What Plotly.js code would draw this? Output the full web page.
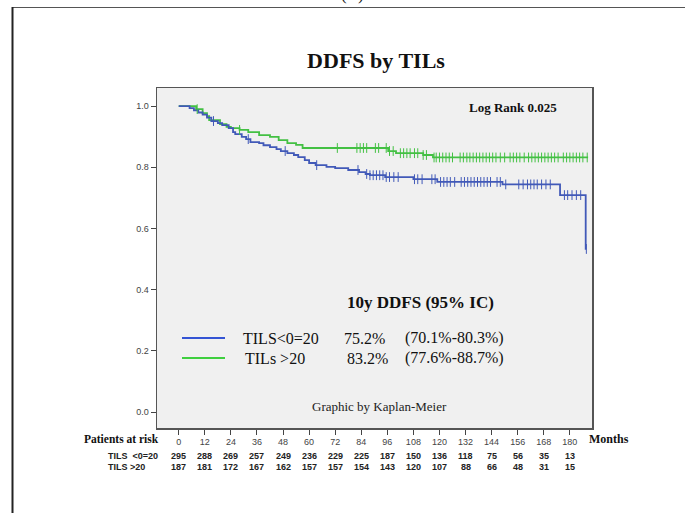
<!DOCTYPE html>
<html>
<head>
<meta charset="utf-8">
<script src="https://cdn.plot.ly/plotly-3.0.1.min.js"></script>
<style>
  html, body { margin: 0; padding: 0; background: #fff; }
  #chart { width: 685px; height: 513px; }
</style>
</head>
<body>
<div id="chart"></div>
<script>
// Kaplan-Meier step curves: event times (months) and survival after each step
const lowTimes = [0, 5, 7, 9, 11, 13, 15, 18, 20, 23, 25, 26, 29, 31, 33, 37, 39, 42, 45, 47, 50, 53, 55, 58, 60, 63, 68, 72, 78, 83, 86, 88, 95, 108, 119, 149, 175.5, 187.3, 187.6];
const lowSurv  = [1.0, 0.993, 0.986, 0.979, 0.972, 0.962, 0.951, 0.944, 0.938, 0.928, 0.915, 0.908, 0.899, 0.892, 0.882, 0.879, 0.872, 0.866, 0.859, 0.853, 0.846, 0.840, 0.833, 0.823, 0.814, 0.807, 0.801, 0.797, 0.791, 0.784, 0.778, 0.774, 0.768, 0.761, 0.752, 0.744, 0.709, 0.533, 0.533];

const highTimes = [0, 8, 11, 13, 14, 19, 22, 24, 28, 32, 37, 42, 46, 50, 54, 57, 96.4, 100, 112.5, 117, 188.4];
const highSurv  = [1.0, 0.990, 0.977, 0.967, 0.954, 0.941, 0.932, 0.928, 0.922, 0.915, 0.905, 0.899, 0.889, 0.879, 0.873, 0.863, 0.853, 0.846, 0.840, 0.832, 0.832];

// Censored observations (months)
const lowCensor = [16, 32, 49, 63.5, 82.5, 86.5, 88, 89.5, 91, 92.5, 94, 95.5, 97, 99, 101, 108.5, 110, 112, 116.5, 118, 120.5, 122, 123.5, 125, 127, 130, 131.5, 133, 134.5, 136, 137.5, 139, 140.5, 142, 143.5, 146.5, 148, 150.5, 156.5, 158.5, 160.5, 162, 163.5, 165, 167, 169, 171, 177.5, 179, 181, 183, 185, 187.6];
const highCensor = [8.5, 28, 73, 82, 83.5, 85, 86.5, 90.5, 92, 95.5, 97, 98.7, 102, 103.5, 105, 106.5, 108.5, 110, 112.5, 114, 117.5, 118.5, 120, 121.5, 123, 124.5, 126, 129.5, 131, 132.6, 134, 135.5, 137, 138.5, 140, 141.5, 143, 144.5, 146, 148, 150, 152.5, 154, 155.5, 157, 159, 161, 162.5, 164, 165.5, 167, 168.5, 170, 171.5, 173, 174.6, 177, 178.5, 180, 181.5, 183, 184.5, 186, 188];

// Numbers at risk
const riskMonths = [0, 12, 24, 36, 48, 60, 72, 84, 96, 108, 120, 132, 144, 156, 168, 180];
const riskLow  = [295, 288, 269, 257, 249, 236, 229, 225, 187, 150, 136, 118, 75, 56, 35, 13];
const riskHigh = [187, 181, 172, 167, 162, 157, 157, 154, 143, 120, 107, 88, 66, 48, 31, 15];

// Group labels and 10-year estimates
const groupNames = ['TILS<0=20', 'TILs >20'];
const riskRowNames = ['TILS\u00a0\u00a0<0=20', 'TILS >20'];
const tenYear = [75.2, 83.2];
const ciLow = [70.1, 77.6];
const ciHigh = [80.3, 88.7];
const yTicks = [0, 0.2, 0.4, 0.6, 0.8, 1.0];

const blue = '#4159b8';
const green = '#43c043';
const blueKey = '#3454d4';
const greenKey = '#3fcf3f';

function survAt(times, surv, t) {
  let s = surv[0];
  for (let i = 0; i < times.length; i++) {
    if (times[i] <= t) s = surv[i]; else break;
  }
  return s;
}

const traces = [
  { x: highTimes, y: highSurv, mode: 'lines', line: { shape: 'hv', color: green, width: 1.8 }, hoverinfo: 'skip' },
  { x: lowTimes, y: lowSurv, mode: 'lines', line: { shape: 'hv', color: blue, width: 1.8 }, hoverinfo: 'skip' },
  { x: highCensor, y: highCensor.map(t => survAt(highTimes, highSurv, t)), mode: 'markers',
    marker: { symbol: 'line-ns-open', size: 7, color: green, line: { color: green, width: 1 } }, hoverinfo: 'skip' },
  { x: lowCensor, y: lowCensor.map(t => survAt(lowTimes, lowSurv, t)), mode: 'markers',
    marker: { symbol: 'line-ns-open', size: 7, color: blue, line: { color: blue, width: 1 } }, hoverinfo: 'skip' }
];

const L = 157, R = 592, T = 88, B = 428;
const px = v => (v - L) / (R - L);
const py = v => (B - v) / (B - T);

const serif = 'Liberation Serif, Times New Roman, serif';
const sans = 'Liberation Sans, Arial, sans-serif';

function note(text, x, y, xanchor, font, xref) {
  return { text: text, x: x, y: y, xref: xref || 'paper', yref: 'paper',
    xanchor: xanchor, yanchor: 'middle', showarrow: false, font: font };
}

const annotations = [
  { text: '(B)', x: px(352), y: py(6), xref: 'paper', yref: 'paper', xanchor: 'center', yanchor: 'bottom', showarrow: false,
    font: { family: serif, size: 17, color: '#111' } },
  note('<b>Log Rank 0.025</b>', px(513), py(107), 'center', { family: serif, size: 13, color: '#111' }),
  note('<b>10y DDFS (95% IC)</b>', px(420), py(302), 'center', { family: serif, size: 17, color: '#111' }),
  note('Graphic by Kaplan-Meier', px(379), py(406), 'center', { family: serif, size: 13, color: '#222' }),
  note('<b>Patients at risk</b>', px(161), py(439), 'right', { family: serif, size: 11.5, color: '#111' }),
  note('<b>Months</b>', px(587), py(439), 'left', { family: serif, size: 12, color: '#111' })
];

// Key rows inside the plot
const keyRowsY = [338, 358];
const keyNameX = [241, 243];
const keyPctX = [342, 345];
const keyFont = { family: serif, size: 16, color: '#111' };
groupNames.forEach((name, i) => {
  annotations.push(note(name, px(keyNameX[i]), py(keyRowsY[i]), 'left', keyFont));
  annotations.push(note(tenYear[i].toFixed(1) + '%', px(keyPctX[i]), py(keyRowsY[i]), 'left', keyFont));
  annotations.push(note('(' + ciLow[i].toFixed(1) + '%-' + ciHigh[i].toFixed(1) + '%)', px(403), py(keyRowsY[i]), 'left', keyFont));
});

// Risk table
const riskRows = [riskLow, riskHigh];
const riskRowY = [456, 467];
const riskFont = { family: sans, size: 9, color: '#222' };
riskRows.forEach((row, r) => {
  annotations.push(note('<b>' + riskRowNames[r] + '</b>', px(106), py(riskRowY[r]), 'left', riskFont));
  row.forEach((n, i) => {
    annotations.push(note('<b>' + n + '</b>', riskMonths[i], py(riskRowY[r]), 'center', riskFont, 'x'));
  });
});

const shapes = [
  // outer frame
  { type: 'line', xref: 'paper', yref: 'paper', x0: px(12), x1: px(686), y0: py(7.5), y1: py(7.5), line: { color: '#555', width: 1.2 } },
  { type: 'line', xref: 'paper', yref: 'paper', x0: px(12.5), x1: px(12.5), y0: py(7), y1: py(514), line: { color: '#222', width: 2 } },
  // key lines
  { type: 'line', xref: 'paper', yref: 'paper', x0: px(182), x1: px(225), y0: py(338), y1: py(338), line: { color: blueKey, width: 2 } },
  { type: 'line', xref: 'paper', yref: 'paper', x0: px(182), x1: px(225), y0: py(358), y1: py(358), line: { color: greenKey, width: 2 } }
];

const layout = {
  width: 685, height: 513,
  margin: { l: L, r: 685 - R, t: T, b: 513 - B, pad: 0 },
  paper_bgcolor: '#ffffff',
  plot_bgcolor: '#f0f0f0',
  showlegend: false,
  title: { text: '<b>DDFS by TILs</b>', x: 376 / 685, xanchor: 'center', y: 1 - 60 / 513, yanchor: 'middle',
    font: { family: serif, size: 22, color: '#111' } },
  xaxis: {
    range: [-10, 190.2], tickvals: riskMonths, ticktext: riskMonths.map(String),
    showgrid: false, zeroline: false, showline: true, mirror: true, linecolor: '#555', linewidth: 1.5,
    ticks: 'outside', ticklen: 5, tickwidth: 1, tickcolor: '#444',
    tickfont: { family: sans, size: 9, color: '#444' }, fixedrange: true
  },
  yaxis: {
    range: [-0.052, 1.059], tickvals: yTicks, ticktext: yTicks.map(v => v.toFixed(1)),
    showgrid: false, zeroline: false, showline: true, mirror: true, linecolor: '#555', linewidth: 1.5,
    ticks: 'outside', ticklen: 5, tickwidth: 1, tickcolor: '#444',
    tickfont: { family: sans, size: 9, color: '#444' }, fixedrange: true
  },
  annotations: annotations,
  shapes: shapes
};

Plotly.newPlot('chart', traces, layout, { staticPlot: true, displayModeBar: false });
</script>
</body>
</html>
